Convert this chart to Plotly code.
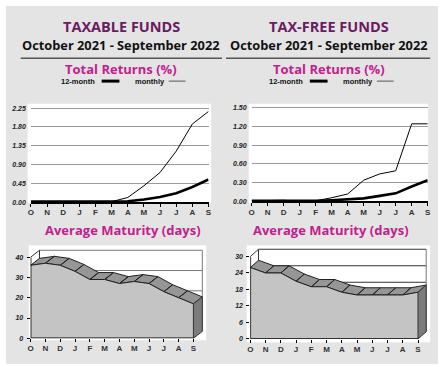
import plotly.graph_objects as go

# ---------------- data ----------------
months = ["O", "N", "D", "J", "F", "M", "A", "M", "J", "J", "A", "S"]

taxable_12m = [0.01, 0.01, 0.01, 0.01, 0.01, 0.01, 0.02, 0.06, 0.12, 0.21, 0.36, 0.54]
taxable_monthly = [0.01, 0.01, 0.01, 0.01, 0.01, 0.01, 0.11, 0.39, 0.71, 1.22, 1.87, 2.17]
taxfree_12m = [0.01, 0.01, 0.01, 0.00, 0.01, 0.02, 0.03, 0.05, 0.09, 0.13, 0.24, 0.34]
taxfree_monthly = [0.01, 0.01, 0.02, 0.00, 0.01, 0.06, 0.12, 0.34, 0.44, 0.49, 1.24, 1.24]

taxable_maturity = [36, 37, 36, 33, 29, 29, 27, 28, 27, 23, 20, 17]
taxfree_maturity = [26, 24, 24, 21, 19, 19, 17, 16, 16, 16, 16, 17]

returns_ticks_taxable = [0.00, 0.45, 0.90, 1.35, 1.80, 2.25]
returns_ticks_taxfree = [0.00, 0.30, 0.60, 0.90, 1.20, 1.50]
maturity_ticks_taxable = [0, 10, 20, 30, 40]
maturity_ticks_taxfree = [0, 6, 12, 18, 24, 30]

# ---------------- layout helpers ----------------
W, H = 447, 367
def PX(x): return x / W
def PY(y): return 1 - y / H

xs = list(range(len(months)))
n = len(months) - 1

PURPLE = "#6b1b5f"
MAGENTA = "#c2208f"
TITLE_FONT = "Open Sans"
TICK_FONT = "Liberation Sans, Arial"

fig = go.Figure()

shapes = []
annotations = []

# gray background panel
shapes.append(dict(type="rect", xref="paper", yref="paper", x0=PX(3), x1=PX(441), y0=PY(367), y1=PY(5),
                   fillcolor="#e4e4e4", line=dict(width=0), layer="below"))
# white plot boxes
for (x0, x1, y0, y1) in [(25, 211, 104, 204), (249, 431, 104, 204), (26, 206, 247, 343), (247, 433, 247, 345)]:
    shapes.append(dict(type="rect", xref="paper", yref="paper", x0=PX(x0), x1=PX(x1), y0=PY(y1), y1=PY(y0),
                       fillcolor="white", line=dict(width=0), layer="below"))

# headers
for cx, name, ul0, ul1 in [(120, "TAXABLE FUNDS", 18, 222), (330, "TAX-FREE FUNDS", 226, 433)]:
    annotations.append(dict(x=PX(cx), y=PY(25.5), xref="paper", yref="paper", text=name, showarrow=False,
                            font=dict(family=TITLE_FONT, size=14.5, color=PURPLE, weight="bold"),
                            xanchor="center", yanchor="middle"))
    annotations.append(dict(x=PX(cx), y=PY(44), xref="paper", yref="paper",
                            text="October 2021 - September 2022", showarrow=False,
                            font=dict(family=TITLE_FONT, size=12.8, color="#111", weight="bold"),
                            xanchor="center", yanchor="middle"))
    shapes.append(dict(type="line", xref="paper", yref="paper", x0=PX(ul0), x1=PX(ul1), y0=PY(58), y1=PY(58),
                       line=dict(color="#555", width=1.5)))
    annotations.append(dict(x=PX(cx), y=PY(69), xref="paper", yref="paper", text="Total Returns (%)",
                            showarrow=False, font=dict(family=TITLE_FONT, size=13, color=MAGENTA, weight="bold"),
                            xanchor="center", yanchor="middle"))
    annotations.append(dict(x=PX(cx + 2), y=PY(232), xref="paper", yref="paper", text="Average Maturity (days)",
                            showarrow=False, font=dict(family=TITLE_FONT, size=13, color=MAGENTA, weight="bold"),
                            xanchor="center", yanchor="middle"))

# legends
for off in [0, 211]:
    annotations.append(dict(x=PX(95 + off), y=PY(81), xref="paper", yref="paper", text="12-month",
                            showarrow=False, xanchor="right", yanchor="middle",
                            font=dict(family=TICK_FONT, size=7.5, color="#111", weight="bold")))
    shapes.append(dict(type="line", xref="paper", yref="paper", x0=PX(100 + off), x1=PX(118 + off),
                       y0=PY(81), y1=PY(81), line=dict(color="black", width=3)))
    annotations.append(dict(x=PX(166 + off), y=PY(81), xref="paper", yref="paper", text="monthly",
                            showarrow=False, xanchor="right", yanchor="middle",
                            font=dict(family=TICK_FONT, size=7.5, color="#111", weight="bold")))
    shapes.append(dict(type="line", xref="paper", yref="paper", x0=PX(168 + off), x1=PX(185 + off),
                       y0=PY(81), y1=PY(81), line=dict(color="#555", width=1)))

# ---------------- returns charts ----------------
tick_font_y = dict(family=TICK_FONT, size=7, color="#222", weight="bold", style="italic")
tick_font_x = dict(family=TICK_FONT, size=8, color="#333", weight="bold")

def returns_chart(i, m12, mon, ticks, xl, xr, ybot, ytop_tick, ytop_box):
    xa = "xaxis" if i == 1 else f"xaxis{i}"
    ya = "yaxis" if i == 1 else f"yaxis{i}"
    xr_ = "x" if i == 1 else f"x{i}"
    yr_ = "y" if i == 1 else f"y{i}"
    ymax = ticks[-1] * (ybot - ytop_box) / (ybot - ytop_tick)
    fig.add_trace(go.Scatter(x=xs, y=mon, mode="lines", line=dict(color="black", width=1),
                             xaxis=xr_, yaxis=yr_, showlegend=False, hoverinfo="skip"))
    fig.add_trace(go.Scatter(x=xs, y=m12, mode="lines", line=dict(color="black", width=2.6),
                             xaxis=xr_, yaxis=yr_, showlegend=False, hoverinfo="skip"))
    fig.update_layout(**{
        xa: dict(domain=[PX(xl), PX(xr)], range=[0, n], tickmode="array", tickvals=xs, ticktext=months,
                 showgrid=False, zeroline=False, showline=True, linecolor="black", linewidth=1.5,
                 ticks="outside", ticklen=3, tickcolor="black", tickfont=tick_font_x, anchor=yr_,
                 ticklabelstandoff=-1, fixedrange=True),
        ya: dict(domain=[PY(ybot), PY(ytop_box)], range=[0, ymax], tickmode="array", tickvals=ticks,
                 ticktext=[f"{t:.2f}" for t in ticks], showgrid=True, gridcolor="#9a9a9a", gridwidth=1,
                 zeroline=False, showline=False, tickfont=tick_font_y, anchor=xr_, ticklabelstandoff=4,
                 fixedrange=True),
    })

returns_chart(1, taxable_12m, taxable_monthly, returns_ticks_taxable, 28.3, 208.3, 203.3, 108.3, 105)
returns_chart(2, taxfree_12m, taxfree_monthly, returns_ticks_taxfree, 252, 430.5, 202.7, 107.7, 105)

# ---------------- 3D area maturity charts ----------------
def maturity_chart(i, vals, ticks, x0px, pxm, y0px, pxu, right_px, top_px, dxpx, dypx, gridcol):
    xa, ya = f"xaxis{i}", f"yaxis{i}"
    xr_, yr_ = f"x{i}", f"y{i}"
    dx = dxpx / pxm
    dy = dypx / pxu
    ymax_t = ticks[-1]
    kw = dict(xaxis=xr_, yaxis=yr_, showlegend=False, hoverinfo="skip")
    # back wall grid lines
    for t in ticks[1:]:
        fig.add_trace(go.Scatter(x=[dx, n + dx], y=[t + dy, t + dy], mode="lines",
                                 line=dict(color=gridcol, width=1), **kw))
    # back wall edges + left wall top edge
    fig.add_trace(go.Scatter(x=[0, dx, dx], y=[ymax_t, ymax_t + dy, dy], mode="lines",
                             line=dict(color="#333", width=1), **kw))
    fig.add_trace(go.Scatter(x=[n + dx, n + dx], y=[dy, ymax_t + dy], mode="lines",
                             line=dict(color="#777", width=1), **kw))
    # top band
    bx, by = [], []
    for k in range(n):
        bx += [xs[k], xs[k + 1], xs[k + 1] + dx, xs[k] + dx, xs[k], None]
        by += [vals[k], vals[k + 1], vals[k + 1] + dy, vals[k] + dy, vals[k], None]
    fig.add_trace(go.Scatter(x=bx, y=by, mode="lines", fill="toself", fillcolor="#969696",
                             line=dict(color="#222", width=1), **kw))
    # front face
    fig.add_trace(go.Scatter(x=xs, y=vals, mode="lines", fill="tozeroy", fillcolor="#c4c4c4",
                             line=dict(color="#222", width=1), **kw))
    # right side face
    fig.add_trace(go.Scatter(x=[n, n, n + dx, n + dx, n], y=[0, vals[-1], vals[-1] + dy, dy, 0],
                             mode="lines", fill="toself", fillcolor="#7c7c7c",
                             line=dict(color="#333", width=1), **kw))
    # front axes lines
    fig.add_trace(go.Scatter(x=[0, 0, n], y=[ymax_t, 0, 0], mode="lines",
                             line=dict(color="black", width=1.5), **kw))
    xmax = (right_px - x0px) / pxm
    ymax = (y0px - top_px) / pxu
    fig.update_layout(**{
        xa: dict(domain=[PX(x0px), PX(right_px)], range=[0, xmax], tickmode="array", tickvals=xs,
                 ticktext=months, showgrid=False, zeroline=False, showline=False, ticks="outside",
                 ticklen=3, tickcolor="black", tickfont=tick_font_x, anchor=yr_,
                 ticklabelstandoff=-1, fixedrange=True),
        ya: dict(domain=[PY(y0px), PY(top_px)], range=[0, ymax], tickmode="array", tickvals=ticks,
                 ticktext=[str(t) for t in ticks], showgrid=False, zeroline=False, showline=False,
                 ticks="outside", ticklen=3, tickcolor="black", tickfont=tick_font_y, anchor=xr_,
                 ticklabelstandoff=2, fixedrange=True),
    })

maturity_chart(3, taxable_maturity, maturity_ticks_taxable, 28, 15.0, 341, 2.05, 206, 247.3, 9, 7, "#7a7a7a")
maturity_chart(4, taxfree_maturity, maturity_ticks_taxfree, 250.7, 15.45, 341.7, 2.78, 433, 247.3, 8.3, 7.3, "#333")

fig.update_layout(width=W, height=H, margin=dict(l=0, r=0, t=0, b=0), paper_bgcolor="white",
                  plot_bgcolor="rgba(0,0,0,0)", shapes=shapes, annotations=annotations, showlegend=False)

fig.write_html("out.html", config={"displayModeBar": False},
               post_script="document.body.style.margin='0';document.body.style.overflow='hidden';")
